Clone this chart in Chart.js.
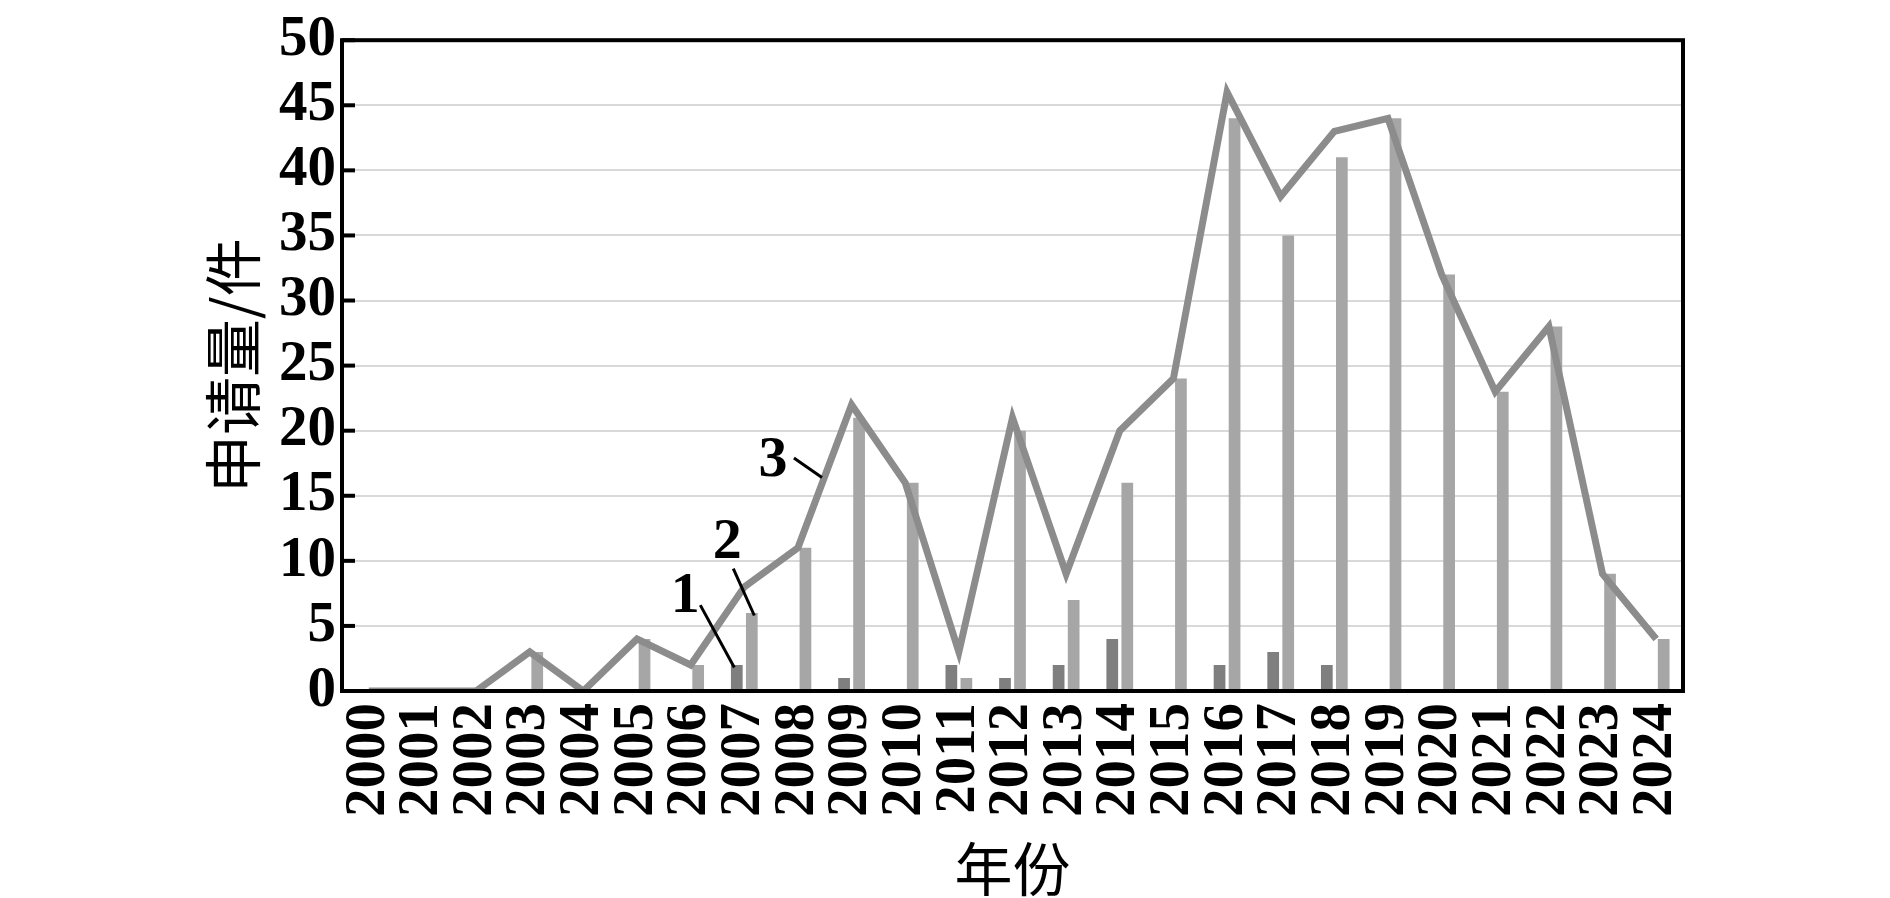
<!DOCTYPE html>
<html>
<head>
<meta charset="utf-8">
<script src="https://cdn.jsdelivr.net/npm/chart.js@4.4.1/dist/chart.umd.min.js"></script>
<style>
html,body{margin:0;padding:0;background:#fff;}
canvas{display:block;}
</style>
</head>
<body>
<canvas id="c" width="1890" height="898"></canvas>
<script>
const years = ['2000','2001','2002','2003','2004','2005','2006','2007','2008','2009','2010','2011','2012','2013','2014','2015','2016','2017','2018','2019','2020','2021','2022','2023','2024'];
const series1 = [0,0,0,0,0,0,0,2,0,1,0,2,1,2,4,0,2,3,2,0,0,0,0,0,0];
const series2 = [0,0,0,3,0,4,2,6,11,21,16,1,20,7,16,24,44,35,41,44,32,23,28,9,4];
const series3 = [0,0,0,3,0,4,2,8,11,22,16,3,21,9,20,24,46,38,43,44,32,23,28,9,4];
const yTicks = [0,5,10,15,20,25,30,35,40,45,50];
const seriesNames = ['1','2','3'];
const yTitle = '申请量/件';
const xTitle = '年份';

const tickFont = {family:'"Liberation Serif", "Times New Roman", serif', size:57, weight:'bold', lineHeight:1.2};
const cjkFont = {family:'"Noto Sans CJK SC", sans-serif', size:58, weight:'normal', lineHeight:1};

const framePlugin = {
  id:'frame',
  afterDraw(chart){
    const ctx = chart.ctx, a = chart.chartArea;
    const xs = chart.scales.x, ys = chart.scales.y;
    ctx.save();
    ctx.strokeStyle = '#000';
    ctx.lineWidth = 4;
    yTicks.forEach(v=>{
      const y = ys.getPixelForValue(v);
      ctx.beginPath();
      ctx.moveTo(a.left, y);
      ctx.lineTo(a.left + 13, y);
      ctx.stroke();
    });
    ctx.strokeRect(a.left, a.top, a.right - a.left, a.bottom - a.top);
    const notes = [
      {t:seriesNames[0], c:7, dx:-59, v:7.2, x1:-44, v1:6.6, x2:-10, v2:1.8},
      {t:seriesNames[1], c:7, dx:-17, v:11.4, x1:-11, v1:9.4, x2:10, v2:5.8},
      {t:seriesNames[2], c:8, dx:-25, v:17.7, x1:-4, v1:17.9, x2:24, v2:16.4}
    ];
    ctx.fillStyle = '#000';
    ctx.font = 'bold 58px "Liberation Serif", serif';
    ctx.textAlign = 'center';
    ctx.textBaseline = 'middle';
    ctx.lineWidth = 3;
    notes.forEach(n=>{
      const cx = xs.getPixelForValue(n.c);
      ctx.fillText(n.t, cx + n.dx, ys.getPixelForValue(n.v));
      ctx.beginPath();
      ctx.moveTo(cx + n.x1, ys.getPixelForValue(n.v1));
      ctx.lineTo(cx + n.x2, ys.getPixelForValue(n.v2));
      ctx.stroke();
    });
    ctx.restore();
  }
};

new Chart(document.getElementById('c'), {
  data:{
    labels: years,
    datasets:[
      {type:'line', label:seriesNames[2], data:series3, borderColor:'#8c8c8c', borderWidth:7, pointRadius:0, pointHoverRadius:0, fill:false, tension:0, borderJoinStyle:'miter', order:0},
      {type:'bar', label:seriesNames[0], data:series1, backgroundColor:'#7f7f7f', barPercentage:0.78, categoryPercentage:0.56, order:1},
      {type:'bar', label:seriesNames[1], data:series2, backgroundColor:'#a6a6a6', barPercentage:0.78, categoryPercentage:0.56, order:1}
    ]
  },
  options:{
    responsive:false,
    animation:false,
    devicePixelRatio:1,
    layout:{padding:{left:204, top:37, right:207, bottom:0}},
    plugins:{legend:{display:false}, tooltip:{enabled:false}},
    scales:{
      x:{
        type:'category',
        offset:true,
        grid:{display:false, drawTicks:false},
        border:{display:false},
        ticks:{font:tickFont, color:'#000', maxRotation:90, minRotation:90, autoSkip:false, padding:12},
        title:{display:true, text:xTitle, font:cjkFont, color:'#000', padding:0},
        afterFit(s){ s.height = 207; }
      },
      y:{
        min:0, max:50,
        grid:{color:'#d9d9d9', lineWidth:2, drawTicks:false},
        border:{display:false},
        ticks:{stepSize:5, autoSkip:false, font:tickFont, color:'#000', padding:6},
        title:{display:true, text:yTitle, font:cjkFont, color:'#000', padding:0},
        afterFit(s){ s.width = 138; }
      }
    }
  },
  plugins:[framePlugin]
});
</script>
</body>
</html>
